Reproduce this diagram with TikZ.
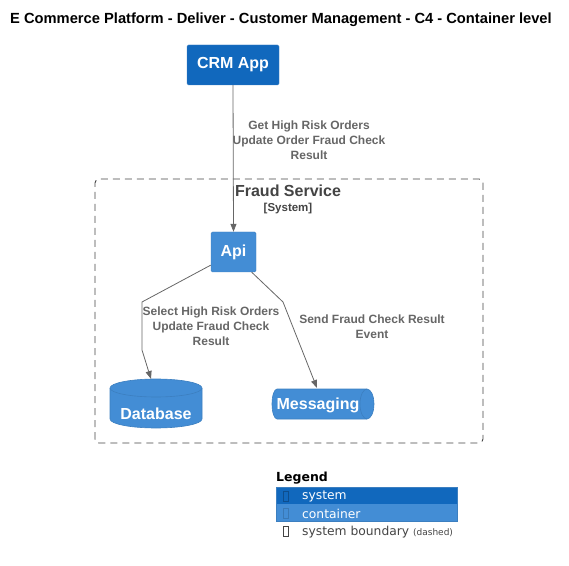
\documentclass[tikz,border=0pt]{standalone}
\usepackage{fontspec}
\setmainfont{Liberation Sans}
\newfontfamily\dejavu{DejaVu Sans}
\usetikzlibrary{arrows.meta}
\definecolor{sysblue}{HTML}{1168BD}
\definecolor{contblue}{HTML}{438DD5}
\definecolor{contborder}{HTML}{3C7FC0}
\definecolor{relgrey}{HTML}{666666}
\definecolor{bndgrey}{HTML}{444444}
\begin{document}
\begin{tikzpicture}[x=1pt,y=1pt,
  sysbox/.style={fill=sysblue,draw=contborder,rounded corners=1.5pt,text=white,font=\fontsize{16}{18}\selectfont,inner sep=0pt},
  contbox/.style={fill=contblue,draw=contborder,rounded corners=1.5pt,text=white,font=\fontsize{16}{18}\selectfont,inner sep=0pt},
  rel/.style={draw=relgrey,line width=0.8pt,-{Triangle[length=8pt,width=6pt]}},
  rellabel/.style={text=relgrey,font=\bfseries\fontsize{12}{15}\selectfont,align=center,inner sep=0pt},
  cyl/.style={fill=contblue,draw=contborder,line width=0.6pt},
  whitelabel/.style={text=white,font=\bfseries\fontsize{16}{18}\selectfont,inner sep=0pt},
  legtext/.style={anchor=west,font=\dejavu\fontsize{12.3}{14}\selectfont,inner sep=0pt},
  tofu/.style={draw,line width=0.5pt}
]
\useasboundingbox (0,0) rectangle (569,565);
% title
\node[font=\bfseries\fontsize{14.7}{17}\selectfont,inner sep=0pt] (title) at (281,545) {E Commerce Platform - Deliver - Customer Management - C4 - Container level};
% boundary
\draw[bndgrey,dash pattern=on 7pt off 5pt,rounded corners=4pt,line width=0.9pt] (95,122) rectangle (483,386);
\node[text=bndgrey,font=\bfseries\fontsize{16}{18}\selectfont,inner sep=0pt] (fs) at (288,374) {Fraud Service};
\node[text=bndgrey,font=\bfseries\fontsize{11.5}{14}\selectfont,inner sep=0pt] (fssys) at (288,356) {[System]};
% nodes
\node[sysbox,minimum width=92pt,minimum height=40pt] (crm) at (233,500) {\bfseries CRM App};
\node[contbox,minimum width=45pt,minimum height=40pt] (api) at (233.5,313) {\bfseries Api};
% database cylinder
\fill[contblue] (110,177) -- (110,146) arc[start angle=180,end angle=360,x radius=46pt,y radius=9pt] -- (202,177) -- cycle;
\draw[contborder,line width=0.6pt] (110,177) -- (110,146) arc[start angle=180,end angle=360,x radius=46pt,y radius=9pt] -- (202,177);
\draw[cyl] (156,177) ellipse[x radius=46pt,y radius=9pt];
\node[whitelabel] (db) at (156,151) {Database};
\coordinate (dbtop) at (151,186);
% messaging cylinder (horizontal)
\fill[contblue] (277,176) -- (367,176) arc[start angle=90,end angle=-90,x radius=7pt,y radius=15pt] -- (277,146) arc[start angle=270,end angle=90,x radius=5pt,y radius=15pt] -- cycle;
\draw[contborder,line width=0.6pt] (277,176) -- (367,176) arc[start angle=90,end angle=-90,x radius=7pt,y radius=15pt] -- (277,146) arc[start angle=270,end angle=90,x radius=5pt,y radius=15pt];
\draw[contborder,line width=0.6pt] (367,176) arc[start angle=90,end angle=270,x radius=7pt,y radius=15pt];
\node[whitelabel] (msg) at (318,160) {Messaging};
\coordinate (msgtop) at (317,177);
% relations
\draw[rel] (crm.south) -- (api.north);
\node[rellabel] (l1) at (309,425) {Get High Risk Orders\\Update Order Fraud Check\\Result};
\draw[rel] (api.210) -- (142,263) -- (142,215) -- (dbtop);
\node[rellabel] (l2) at (211,238.5) {Select High Risk Orders\\Update Fraud Check\\Result};
\draw[rel] (api.-48) -- (283,263) -- (msgtop);
\node[rellabel] (l3) at (372,238) {Send Fraud Check Result\\Event};
% legend
\node[anchor=west,font=\dejavu\bfseries\fontsize{12.5}{15}\selectfont,inner sep=0pt] (leg) at (276,87) {Legend};
\fill[sysblue] (276,61) rectangle (457,78);
\fill[contblue] (276,44) rectangle (457,61);
\draw[contborder,line width=0.5pt] (276,44) rectangle (457,78);
\draw[tofu,draw=sysblue!75!black] (283.5,64) rectangle (288.5,74) coordinate (t1);
\draw[tofu,draw=contblue!85!black] (283.5,47) rectangle (288.5,57) coordinate (t2);
\draw[tofu,draw=bndgrey] (283.5,28.5) rectangle (288.5,38.5) coordinate (t3);
\node[legtext,text=white] (lsys) at (302,68.5) {system};
\node[legtext,text=white] (lcont) at (302,51.5) {container};
\node[legtext,text=bndgrey] (lbnd) at (302,33) {system boundary {\fontsize{9}{10}\selectfont(dashed)}};
\end{tikzpicture}
\end{document}
